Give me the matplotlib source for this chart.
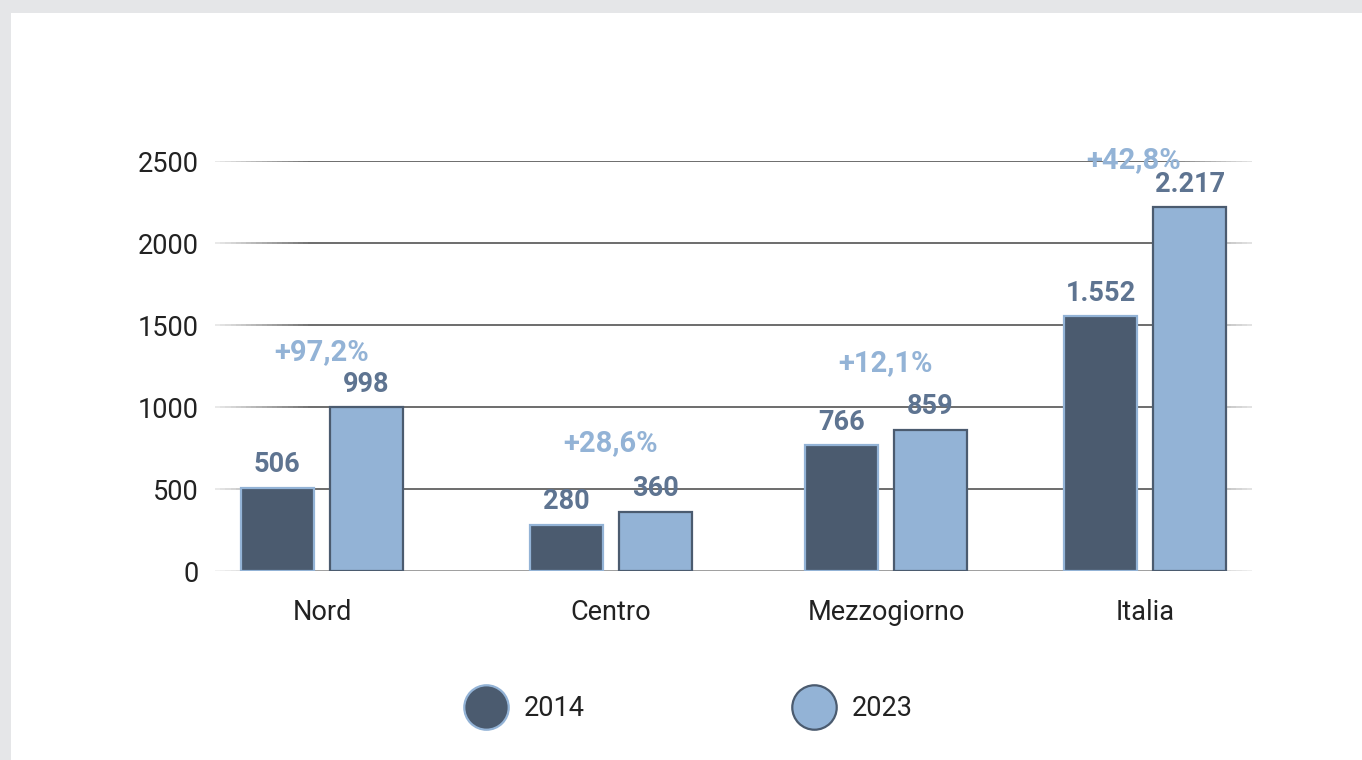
import numpy as np
from matplotlib import pyplot as plt
from matplotlib.collections import LineCollection
from matplotlib.patches import Rectangle
from matplotlib.lines import Line2D
import matplotlib.transforms as mtransforms

plt.rcParams['font.family'] = ['Roboto', 'DejaVu Sans']

categories = ['Nord', 'Centro', 'Mezzogiorno', 'Italia']
vals_2014 = [506, 280, 766, 1552]
vals_2023 = [998, 360, 859, 2217]
labels_2014 = ['506', '280', '766', '1.552']
labels_2023 = ['998', '360', '859', '2.217']
pct_labels = ['+97,2%', '+28,6%', '+12,1%', '+42,8%']
yticks = [0, 500, 1000, 1500, 2000, 2500]

# layout only: group centres and height (data units) of each % label
xpos = np.array([0, 1.051, 2.051, 2.993])
pct_y = [1335, 780, 1268, 2505]
pct_dx = [0, 0, 0, -0.04]

dark = '#4b5b6f'
light = '#93b3d6'
lab_col = '#5e7491'

fig = plt.figure(figsize=(13.62, 7.6), dpi=100, facecolor='#e5e6e8')
fig.patches.append(Rectangle((11 / 1362, 0), 1, 1 - 13 / 760, transform=fig.transFigure,
                             facecolor='white', edgecolor='none', zorder=-10))

ax = fig.add_axes([215 / 1362, 1 - 571 / 760, (1252 - 215) / 1362, (571 - 161) / 760])
ax.set_facecolor('none')
for s in ax.spines.values():
    s.set_visible(False)

w = 0.265
off = 0.162
ax.bar(xpos - off, vals_2014, w, color=dark, edgecolor=light, linewidth=1.6, zorder=3)
ax.bar(xpos + off, vals_2023, w, color=light, edgecolor=dark, linewidth=1.6, zorder=3)

for xi, v, t in zip(xpos - off, vals_2014, labels_2014):
    ax.annotate(t, (xi, v), xytext=(0, 7), textcoords='offset points', ha='center', va='bottom',
                fontsize=19.5, fontweight='bold', color=lab_col, zorder=4)
for xi, v, t in zip(xpos + off, vals_2023, labels_2023):
    ax.annotate(t, (xi, v), xytext=(0, 7), textcoords='offset points', ha='center', va='bottom',
                fontsize=19.5, fontweight='bold', color=lab_col, zorder=4)
for xi, dx, yy, t in zip(xpos, pct_dx, pct_y, pct_labels):
    ax.text(xi + dx, yy, t, ha='center', va='center', fontsize=21, fontweight='bold',
            color=light, zorder=4)

ax.set_xlim(-0.389, 3.382)
ax.set_ylim(0, 2500)
ax.set_yticks(yticks)
ax.set_xticks(xpos)
ax.set_xticklabels(categories)
ax.tick_params(axis='both', length=0, labelsize=19.5, labelcolor='#222222')
ax.tick_params(axis='y', pad=12)
ax.tick_params(axis='x', pad=20)

# gridlines fading out towards both ends
trans = mtransforms.blended_transform_factory(ax.transAxes, ax.transData)
xs = np.linspace(0, 1, 201)
alpha = np.clip(np.minimum(xs / 0.09, (1 - xs) / 0.09), 0, 1)
for yv in yticks:
    segs = [[(xs[i], yv), (xs[i + 1], yv)] for i in range(len(xs) - 1)]
    cols = [(0.33, 0.33, 0.33, 0.15 + 0.85 * a) for a in alpha[:-1]]
    if yv == 0:
        cols = [(0.45, 0.45, 0.45, 0.1 + 0.7 * a) for a in alpha[:-1]]
    ax.add_collection(LineCollection(segs, colors=cols, linewidths=1.2, transform=trans, zorder=1))

handles = [Line2D([], [], ls='none', marker='o', markersize=32, markerfacecolor=dark,
                  markeredgecolor=light, markeredgewidth=1.6),
           Line2D([], [], ls='none', marker='o', markersize=32, markerfacecolor=light,
                  markeredgecolor=dark, markeredgewidth=1.6)]
fig.legend(handles, ['2014', '2023'], ncol=2, loc='center', bbox_to_anchor=(688 / 1362, 1 - 709 / 760),
           frameon=False, fontsize=19.5, handlelength=1.7, handletextpad=0.55, columnspacing=7.6,
           labelcolor='#222222')

plt.savefig('out.png', dpi=100, facecolor=fig.get_facecolor())
